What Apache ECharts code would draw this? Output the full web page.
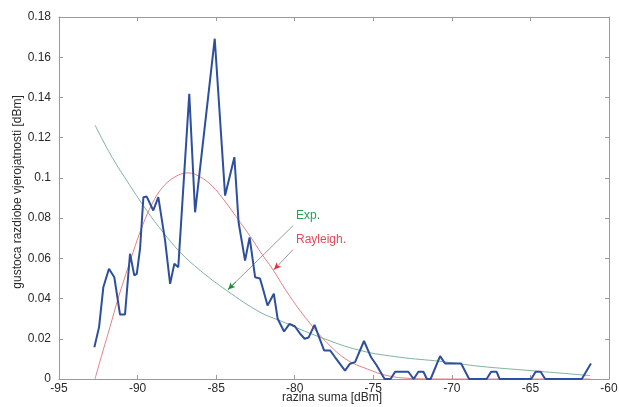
<!DOCTYPE html>
<html>
<head>
<meta charset="utf-8">
<script src="https://cdn.jsdelivr.net/npm/echarts@6/dist/echarts.min.js"></script>
<style>html,body{margin:0;padding:0;background:#fff;}#c{width:619px;height:407px;}</style>
</head>
<body>
<div id="c"></div>
<script>
// ---- data ----
const xTicks = [-95, -90, -85, -80, -75, -70, -65, -60];
const yTicks = [0, 0.02, 0.04, 0.06, 0.08, 0.1, 0.12, 0.14, 0.16, 0.18];

const measX = [-92.75,-92.45,-92.18,-91.82,-91.48,-91.12,-90.80,-90.48,-90.21,-90.05,-89.84,-89.63,-89.42,-89.00,-88.68,-88.25,-87.93,-87.66,-87.41,-86.71,-86.34,-85.09,-84.43,-83.84,-83.57,-83.16,-82.87,-82.52,-82.21,-81.99,-81.73,-81.33,-81.09,-80.68,-80.33,-79.98,-79.66,-79.37,-79.12,-78.74,-78.39,-78.13,-77.75,-77.43,-76.80,-76.48,-76.16,-75.59,-75.14,-74.78,-74.28,-73.90,-73.61,-72.77,-72.43,-72.13,-71.81,-71.59,-71.35,-70.75,-70.43,-69.41,-68.90,-67.79,-67.50,-67.15,-66.96,-64.95,-64.67,-64.35,-64.06,-61.73,-61.15];
const measY = [0.0158,0.0258,0.0456,0.0548,0.0506,0.0321,0.0321,0.0623,0.0515,0.0523,0.0649,0.0904,0.0907,0.0838,0.0904,0.0689,0.0473,0.0573,0.0556,0.1418,0.0829,0.1692,0.0912,0.1103,0.0778,0.0589,0.0704,0.0506,0.0500,0.0440,0.0365,0.0424,0.0301,0.0236,0.0274,0.0261,0.0226,0.0200,0.0206,0.0269,0.0196,0.0142,0.0142,0.0108,0.0042,0.0076,0.0084,0.0189,0.0108,0.0067,0,0,0.0036,0.0036,0,0.0036,0.0036,0,0,0.0114,0.0077,0.0077,0,0,0.0036,0.0036,0,0,0.0036,0.0036,0,0,0.0077];

const rayX = [-92.71,-92.20,-91.75,-91.24,-90.67,-90.16,-89.65,-89.08,-88.44,-87.62,-86.79,-86.02,-85.26,-84.50,-83.48,-82.84,-82.08,-81.44,-80.30,-78.96,-77.94,-76.67,-75.39,-74.12,-72.66,-70.75,-61.20];
const rayY = [0,0.014,0.026,0.040,0.054,0.066,0.077,0.087,0.095,0.1005,0.1025,0.1005,0.096,0.089,0.078,0.071,0.062,0.055,0.041,0.027,0.018,0.0095,0.005,0.0017,0.0003,0,0];

const expX = [-92.71,-91.75,-90.69,-89.42,-88.38,-87.30,-86.02,-84.33,-82.21,-80.93,-78.39,-75.84,-73.29,-70.75,-68.20,-65.02,-61.20];
const expY = [0.1263,0.112,0.0987,0.0838,0.073,0.0631,0.054,0.044,0.0332,0.029,0.0208,0.0142,0.0108,0.0088,0.0063,0.0042,0.0017];

// annotation arrows (data coordinates): [fromX, fromY, toX, toY]
const expArrow = [-80.10, 0.0763, -84.24, 0.0445];
const rayArrow = [-80.10, 0.0644, -81.31, 0.0544];
const expLabel = 'Exp.';
const rayLabel = 'Rayleigh.';
const xName = 'razina suma [dBm]';
const yName = 'gustoca razdiobe vjerojatnosti [dBm]';

// ---- chart ----
const zip = (a, b) => a.map((v, i) => [v, b[i]]);
const FONT = 'Liberation Sans';
const axisCol = '#9a9a9a';
const txtCol = '#2a2a2a';

function arrowLines(arr, headColor) {
  const [x1, y1, x2, y2] = arr;
  const t = 0.12;
  const hx = x2 - (x2 - x1) * t, hy = y2 - (y2 - y1) * t;
  return [
    [{ coord: [x1, y1], lineStyle: { color: '#9a9a9a', width: 1, type: 'solid' } }, { coord: [x2, y2] }],
    [{ coord: [hx, hy], symbol: 'none', lineStyle: { color: headColor, width: 1, type: 'solid' } }, { coord: [x2, y2], symbol: 'arrow', symbolSize: [5, 7] }]
  ];
}

const chart = echarts.init(document.getElementById('c'), null, { renderer: 'canvas' });
const baseX = {
  type: 'value', min: xTicks[0], max: xTicks[xTicks.length - 1], interval: 5,
  axisLine: { show: true, onZero: false, lineStyle: { color: axisCol, width: 1 } },
  axisTick: { show: true, inside: true, length: 4, lineStyle: { color: axisCol } },
  splitLine: { show: false }
};
const baseY = {
  type: 'value', min: yTicks[0], max: yTicks[yTicks.length - 1], interval: 0.02,
  axisLine: { show: true, onZero: false, lineStyle: { color: axisCol, width: 1 } },
  axisTick: { show: true, inside: true, length: 4, lineStyle: { color: axisCol } },
  splitLine: { show: false }
};
chart.setOption({
  animation: false,
  backgroundColor: '#fff',
  grid: { left: 59, right: 10, top: 17, bottom: 28, containLabel: false, outerBoundsMode: 'none' },
  xAxis: [
    Object.assign({}, baseX, {
      position: 'bottom',
      axisLabel: { color: txtCol, fontFamily: FONT, fontSize: 12, margin: 4 }
    }),
    Object.assign({}, baseX, { position: 'top', axisLabel: { show: false } })
  ],
  yAxis: [
    Object.assign({}, baseY, {
      position: 'left',
      axisLabel: { color: txtCol, fontFamily: FONT, fontSize: 12, margin: 8,
        formatter: v => String(+v.toFixed(2)) }
    }),
    Object.assign({}, baseY, { position: 'right', axisLabel: { show: false } })
  ],
  series: [
    {
      name: 'Exp', type: 'line', data: zip(expX, expY), smooth: 0.4,
      showSymbol: false, lineStyle: { color: '#7fb39a', width: 1 },
      markLine: { silent: true, symbol: ['none', 'none'], label: { show: false },
        data: arrowLines(expArrow, '#1f8a3c'), animation: false }
    },
    {
      name: 'Rayleigh', type: 'line', data: zip(rayX, rayY), smooth: 0.4,
      showSymbol: false, lineStyle: { color: '#e57f86', width: 1 },
      markLine: { silent: true, symbol: ['none', 'none'], label: { show: false },
        data: arrowLines(rayArrow, '#e0303c'), animation: false }
    },
    {
      name: 'measured', type: 'line', data: zip(measX, measY), smooth: false,
      showSymbol: false, lineStyle: { color: '#2d4f9e', width: 2 }, z: 5
    }
  ],
  graphic: [
    { type: 'text', left: 296, top: 210, style: { text: expLabel, fill: '#2a9a55', font: '12px "Liberation Sans"' } },
    { type: 'text', left: 296, top: 234, style: { text: rayLabel, fill: '#e04a55', font: '12px "Liberation Sans"' } },
    { type: 'text', x: 332, y: 398, style: { text: xName, fill: txtCol, font: '12px "Liberation Sans"', align: 'center', verticalAlign: 'middle' } },
    { type: 'text', x: 18, y: 192, rotation: Math.PI / 2, style: { text: yName, fill: txtCol, font: '12px "Liberation Sans"', align: 'center', verticalAlign: 'middle' } }
  ]
});
</script>
</body>
</html>
